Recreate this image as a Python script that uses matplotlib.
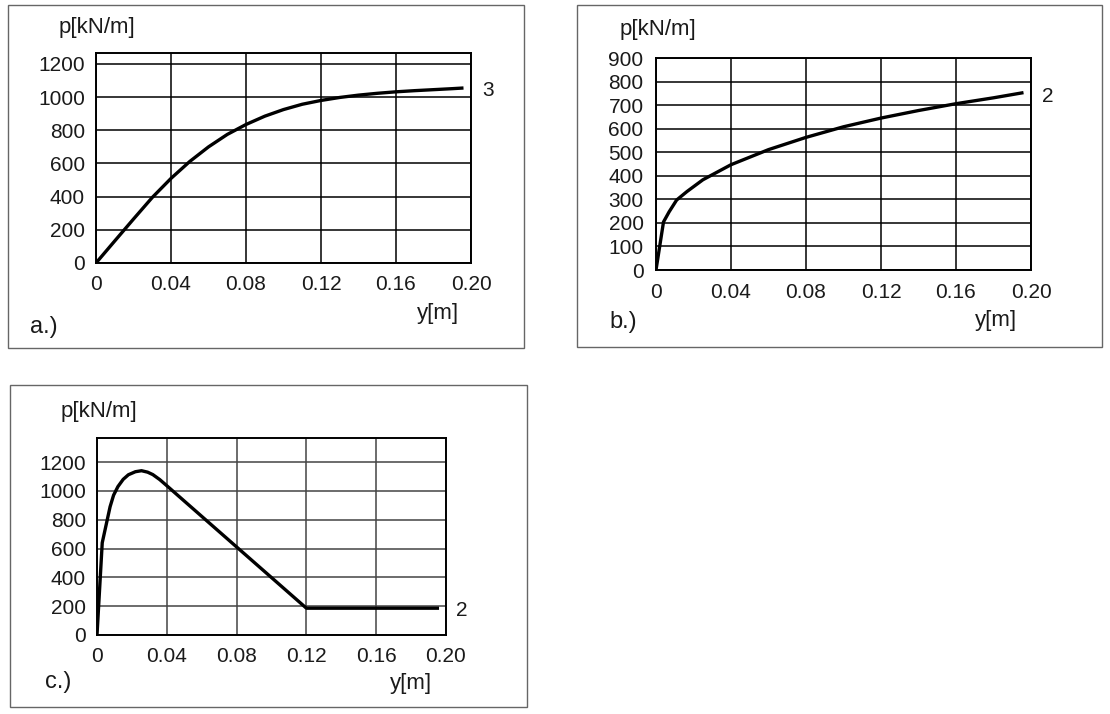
import matplotlib.pyplot as plt
from matplotlib.patches import Rectangle

# dane (y [m], p [kN/m])
a_y = [0, 0.01, 0.02, 0.03, 0.04, 0.05, 0.06, 0.07, 0.08, 0.09, 0.10,
       0.11, 0.12, 0.13, 0.14, 0.15, 0.16, 0.17, 0.18, 0.19, 0.196]
a_p = [0, 133, 265, 395, 510, 612, 700, 775, 835, 885, 925,
       957, 980, 998, 1012, 1023, 1032, 1039, 1045, 1051, 1055]

b_y = [0, 0.004, 0.007, 0.011, 0.0165, 0.025, 0.04, 0.06, 0.08, 0.10,
       0.12, 0.14, 0.16, 0.18, 0.196]
b_p = [0, 204, 247, 297, 333, 383, 447, 511, 563, 608,
       645, 677, 706, 731, 753]

c_y = [0, 0.003, 0.0075, 0.0095, 0.012, 0.015, 0.018, 0.022, 0.0255,
       0.029, 0.032, 0.036, 0.04, 0.12, 0.196]
c_p = [0, 640, 890, 970, 1030, 1080, 1112, 1133, 1140,
       1130, 1113, 1078, 1036, 186, 186]

x_ticks = [0, 0.04, 0.08, 0.12, 0.16, 0.20]
x_labels = ["0", "0.04", "0.08", "0.12", "0.16", "0.20"]
ac_yticks = [0, 200, 400, 600, 800, 1000, 1200]
b_yticks = [0, 100, 200, 300, 400, 500, 600, 700, 800, 900]

W, H = 1110, 714
plt.rcParams['font.family'] = ['Liberation Sans', 'DejaVu Sans']
fig = plt.figure(figsize=(W / 100, H / 100), dpi=100)


def box(x0, y0, x1, y1):
    return [x0 / W, 1 - y1 / H, (x1 - x0) / W, (y1 - y0) / H]


def tekst(x, y, s, ha='center', size=16):
    fig.text(x / W, 1 - y / H, s, ha=ha, va='center', fontsize=size, color='#1a1a1a')


def ramka(x0, y0, x1, y1):
    fig.patches.append(Rectangle((x0 / W, 1 - y1 / H), (x1 - x0) / W, (y1 - y0) / H,
                                 transform=fig.transFigure, fill=False,
                                 edgecolor='#666666', linewidth=1.0))


def panel(rect, ys, ps, yticks, ymax, grid_col, xpad, ypad):
    ax = fig.add_axes(rect)
    ax.plot(ys, ps, color='black', linewidth=2.4, solid_capstyle='butt')
    ax.set_xlim(0, 0.20)
    ax.set_ylim(0, ymax)
    ax.set_xticks(x_ticks)
    ax.set_xticklabels(x_labels)
    ax.set_yticks(yticks)
    ax.grid(True, color=grid_col, linewidth=1.1)
    ax.set_axisbelow(True)
    for s in ax.spines.values():
        s.set_linewidth(1.4)
    ax.tick_params(axis='x', length=0, pad=xpad, labelsize=15, labelcolor='#1a1a1a')
    ax.tick_params(axis='y', length=0, pad=ypad, labelsize=15, labelcolor='#1a1a1a')
    return ax


# a.)
ramka(8, 5, 524, 348)
panel(box(96, 53, 471, 263), a_y, a_p, ac_yticks, 1266, 'black', 9, 8)
tekst(59, 28, "p[kN/m]", ha='left')
tekst(438, 314, "y[m]")
tekst(44, 327, "a.)", size=17)
tekst(488, 90, "3", size=15)

# b.)
ramka(577, 5, 1102, 347)
panel(box(656, 58, 1031, 270), b_y, b_p, b_yticks, 900, 'black', 9, 9)
tekst(620, 30, "p[kN/m]", ha='left')
tekst(996, 321, "y[m]")
tekst(623, 322, "b.)", size=17)
tekst(1048, 96, "2", size=15)

# c.)
ramka(10, 385, 527, 707)
panel(box(97, 438, 446, 635), c_y, c_p, ac_yticks, 1367, '#444444', 9, 8)
tekst(61, 412, "p[kN/m]", ha='left')
tekst(411, 684, "y[m]")
tekst(58, 682, "c.)", size=17)
tekst(462, 610, "2", size=15)

fig.savefig("out.png", dpi=100)
